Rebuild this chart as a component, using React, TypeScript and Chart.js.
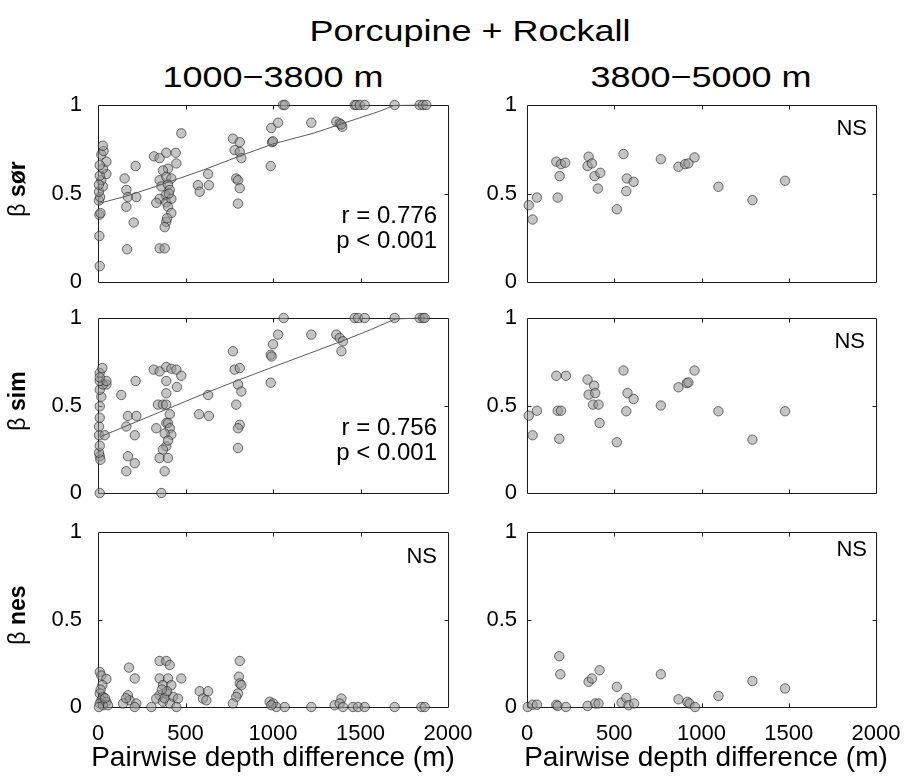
import React, { useEffect, useRef } from 'react';
import { Chart, registerables } from 'chart.js';

Chart.register(...registerables);

const FONT = "'Liberation Sans', Arial, Helvetica, sans-serif";

// ---------- Data: 1000-3800 m ----------
const shallowSorX = [10, 8, 8, 14, 5, 12, 6, 28, 19, 48, 10, 28, 48, 10, 19, 32, 28, 5,
  152, 162, 171, 162, 219, 215, 204, 166,
  320, 352, 390, 444, 448, 400, 371, 352, 390, 419, 362, 400, 410, 387, 352, 333, 390, 419, 400, 419, 390, 381, 352, 381, 476, 395, 405,
  629, 571, 581, 634,
  771, 810, 781, 810, 819, 790, 800, 810, 800,
  990, 1029, 994, 1000, 987, 1057, 1067,
  1219, 1362, 1381, 1396, 1390,
  1467, 1476, 1496, 1524, 1695, 1838, 1857, 1876];
const shallowSorY = [0.09, 0.26, 0.38, 0.39, 0.46, 0.48, 0.51, 0.54, 0.575, 0.61, 0.60, 0.64, 0.68, 0.66, 0.72, 0.74, 0.77, 0.55,
  0.585, 0.52, 0.48, 0.425, 0.48, 0.655, 0.336, 0.185,
  0.71, 0.70, 0.73, 0.73, 0.67, 0.64, 0.63, 0.575, 0.594, 0.585, 0.54, 0.55, 0.52, 0.49, 0.47, 0.447, 0.45, 0.47, 0.425, 0.39, 0.34, 0.31, 0.19, 0.19, 0.84, 0.36, 0.50,
  0.61, 0.547, 0.51, 0.547,
  0.81, 0.79, 0.745, 0.735, 0.70, 0.585, 0.575, 0.53, 0.443,
  0.87, 0.90, 0.79, 0.795, 0.655, 1.0, 1.0,
  0.90, 0.906, 0.896, 0.877, 0.89,
  1, 1, 1, 1, 1, 1, 1, 1];

const shallowSimX = [10, 10, 14, 6, 10, 6, 38, 6, 10, 10, 19, 10, 48, 28, 10, 48, 10, 25, 10,
  133, 215, 171, 219, 162, 210, 171, 210, 162,
  362, 318, 352, 390, 419, 448, 476, 390, 451, 390, 343, 371, 390, 410, 390, 400, 410, 419, 381, 333, 390, 371, 352, 400, 381, 400,
  629, 577, 634,
  771, 781, 810, 800, 819, 790, 810, 800, 800,
  1029, 1000, 987, 992, 987, 1061,
  1219, 1362, 1381, 1400, 1391,
  1467, 1486, 1524, 1695, 1838, 1857, 1867];
const shallowSimY = [0, 0.21, 0.19, 0.23, 0.27, 0.33, 0.33, 0.38, 0.43, 0.495, 0.55, 0.59, 0.62, 0.62, 0.64, 0.64, 0.686, 0.714, 0.66,
  0.56, 0.64, 0.44, 0.44, 0.38, 0.33, 0.21, 0.17, 0.124,
  0, 0.705, 0.695, 0.72, 0.71, 0.705, 0.67, 0.64, 0.606, 0.57, 0.505, 0.505, 0.505, 0.45, 0.40, 0.40, 0.37, 0.333, 0.34, 0.37, 0.267, 0.248, 0.2, 0.2, 0.124, 0.30,
  0.56, 0.45, 0.44,
  0.81, 0.705, 0.714, 0.62, 0.58, 0.505, 0.39, 0.37, 0.257,
  0.905, 0.85, 0.79, 0.78, 0.63, 1.0,
  0.905, 0.905, 0.886, 0.867, 0.81,
  1, 1, 1, 1, 1, 1, 1];

const shallowNesX = [10, 19, 48, 25, 10, 28, 19, 48, 10, 28, 57, 5, 40, 15,
  177, 210, 171, 181, 143, 219, 210, 160,
  352, 390, 410, 352, 400, 476, 371, 419, 352, 390, 429, 457, 333, 371, 410, 305, 448, 380, 395, 365,
  581, 629, 600, 619,
  810, 805, 810, 819, 800, 790, 771,
  981, 1000, 1019, 1067, 990,
  1219, 1352, 1391, 1381, 1400, 1457, 1486, 1524, 1695, 1848, 1867];
const shallowNesY = [0.2, 0.18, 0.16, 0.125, 0.077, 0.058, 0.038, 0.03, 0.02, 0.01, 0.01, 0, 0.05, 0.1,
  0.225, 0.163, 0.067, 0.038, 0.02, 0.02, 0, 0.05,
  0.263, 0.263, 0.24, 0.163, 0.163, 0.163, 0.125, 0.125, 0.067, 0.077, 0.058, 0.048, 0.048, 0.03, 0.02, 0, 0, 0.05, 0.09, 0.1,
  0.09, 0.09, 0.048, 0.038,
  0.263, 0.173, 0.135, 0.125, 0.077, 0.058, 0.02,
  0.03, 0.02, 0, 0, 0.01,
  0, 0.01, 0.048, 0.02, 0, 0, 0, 0, 0, 0, 0];

// fitted trend lines
const sorFitX = [0, 162, 352, 600, 810, 1000, 1229, 1400, 1610, 1690, 1880];
const sorFitY = [0.443, 0.485, 0.547, 0.632, 0.712, 0.78, 0.84, 0.896, 0.965, 0.997, 1.0];
const simFitX = [19, 352, 600, 810, 1000, 1200, 1400, 1550, 1700, 1870];
const simFitY = [0.324, 0.462, 0.565, 0.648, 0.72, 0.795, 0.87, 0.93, 0.995, 1.0];

// ---------- Data: 3800-5000 m ----------
const deepSorX = [10, 32, 57, 168, 176, 187, 195, 219, 347, 353, 372, 387, 406, 420, 515, 553, 569, 572, 611, 767, 868, 906, 925, 960, 1097, 1292, 1479];
const deepSorY = [0.434, 0.353, 0.477, 0.68, 0.477, 0.598, 0.666, 0.674, 0.655, 0.708, 0.67, 0.598, 0.528, 0.617, 0.411, 0.723, 0.513, 0.585, 0.566, 0.694, 0.651, 0.666, 0.67, 0.704, 0.538, 0.462, 0.572];

const deepSimX = [10, 32, 57, 168, 176, 185, 195, 223, 347, 353, 378, 385, 391, 410, 416, 515, 553, 569, 576, 611, 767, 868, 916, 925, 960, 1097, 1292, 1479];
const deepSimY = [0.442, 0.33, 0.47, 0.67, 0.47, 0.31, 0.47, 0.67, 0.648, 0.562, 0.505, 0.613, 0.571, 0.505, 0.40, 0.29, 0.70, 0.467, 0.571, 0.537, 0.50, 0.604, 0.628, 0.632, 0.70, 0.467, 0.305, 0.467];

const deepNesX = [4, 32, 57, 168, 176, 185, 191, 223, 347, 353, 372, 391, 410, 416, 515, 542, 569, 582, 614, 767, 868, 919, 931, 963, 1097, 1292, 1479];
const deepNesY = [0, 0.013, 0.013, 0.013, 0.006, 0.29, 0.187, 0, 0.006, 0.144, 0.163, 0.02, 0.02, 0.21, 0.115, 0.025, 0.052, 0.01, 0.02, 0.187, 0.044, 0.029, 0.02, 0, 0.063, 0.148, 0.106];

const xTickValues = [0, 500, 1000, 1500, 2000];
const yTickValues = [0, 0.5, 1];

const zip = (xs: number[], ys: number[]) => xs.map((x, i) => ({ x, y: ys[i] }));

const framePlugin = {
  id: 'frame',
  beforeDatasetsDraw(chart: any) {
    const { ctx, chartArea: a, scales } = chart;
    ctx.save();
    ctx.strokeStyle = '#1a1a1a';
    ctx.lineWidth = 1;
    ctx.beginPath();
    const L = Math.round(a.left) + 0.5, R = Math.round(a.right) + 0.5;
    const T = Math.round(a.top) + 0.5, B = Math.round(a.bottom) + 0.5;
    ctx.rect(L, T, R - L, B - T);
    const tl = 4;
    xTickValues.slice(1, -1).forEach((v) => {
      const px = Math.round(scales.x.getPixelForValue(v)) + 0.5;
      ctx.moveTo(px, B); ctx.lineTo(px, B - tl);
      ctx.moveTo(px, T); ctx.lineTo(px, T + tl);
    });
    yTickValues.slice(1, -1).forEach((v) => {
      const py = Math.round(scales.y.getPixelForValue(v)) + 0.5;
      ctx.moveTo(L, py); ctx.lineTo(L + tl, py);
      ctx.moveTo(R, py); ctx.lineTo(R - tl, py);
    });
    ctx.stroke();
    ctx.restore();
  },
};

type PanelProps = {
  left: number; top: number; width: number; height: number;
  xs: number[]; ys: number[]; fitX?: number[]; fitY?: number[];
  showX: boolean; yPad: number;
};

const PADL = 90, PADT = 14, PADR = 30;

const zeroPad = (s: any) => {
  s.paddingLeft = 0; s.paddingRight = 0; s.paddingTop = 0; s.paddingBottom = 0;
};

function Panel(p: PanelProps) {
  const ref = useRef<HTMLCanvasElement | null>(null);
  const bottomSpace = p.showX ? 44 : 14;
  const cw = PADL + p.width + PADR;
  const ch = PADT + p.height + bottomSpace;
  useEffect(() => {
    if (!ref.current) return;
    const datasets: any[] = [];
    if (p.fitX && p.fitY) {
      datasets.push({
        type: 'line', data: zip(p.fitX, p.fitY), borderColor: '#5a5a5a', borderWidth: 1,
        pointRadius: 0, fill: false, tension: 0, clip: false,
      });
    }
    datasets.push({
      type: 'scatter', data: zip(p.xs, p.ys), pointRadius: 4.7, pointHoverRadius: 4.7,
      backgroundColor: 'rgba(150,150,150,0.55)', borderColor: 'rgba(20,20,20,0.65)',
      borderWidth: 0.9, clip: false,
    });
    const tickFont = { size: 22, family: FONT };
    const chart = new Chart(ref.current, {
      type: 'scatter',
      data: { datasets },
      plugins: [framePlugin],
      options: {
        animation: false,
        responsive: false,
        maintainAspectRatio: false,
        events: [],
        layout: { autoPadding: false, padding: { left: 0, top: PADT, right: PADR, bottom: p.showX ? 0 : 14 } },
        plugins: { legend: { display: false }, tooltip: { enabled: false }, title: { display: false } },
        scales: {
          x: {
            type: 'linear', min: 0, max: 2000,
            afterFit: (s: any) => { s.height = p.showX ? bottomSpace : 0; zeroPad(s); },
            afterBuildTicks: (s: any) => { s.ticks = xTickValues.map((v) => ({ value: v })); },
            grid: { display: false, drawTicks: false },
            border: { display: false },
            ticks: {
              display: p.showX, padding: 14, font: tickFont, color: '#000',
              maxRotation: 0, autoSkip: false, callback: (v: any) => String(v),
            },
          },
          y: {
            type: 'linear', min: 0, max: 1,
            afterFit: (s: any) => { s.width = PADL; zeroPad(s); },
            afterBuildTicks: (s: any) => { s.ticks = yTickValues.map((v) => ({ value: v })); },
            grid: { display: false, drawTicks: false },
            border: { display: false },
            ticks: { padding: p.yPad, font: tickFont, color: '#000', callback: (v: any) => String(v) },
          },
        },
      } as any,
    });
    return () => chart.destroy();
  }, []);
  return (
    <canvas
      ref={ref}
      width={cw}
      height={ch}
      style={{ position: 'absolute', left: p.left - PADL, top: p.top - PADT, width: cw, height: ch, display: 'block' }}
    />
  );
}

const txt = (extra: React.CSSProperties): React.CSSProperties => ({
  position: 'absolute', fontFamily: FONT, color: '#000', whiteSpace: 'nowrap', margin: 0, ...extra,
});

function YLabel({ name, cy }: { name: string; cy: number }) {
  return (
    <div style={txt({ left: 17, top: cy, fontSize: 23, lineHeight: '23px', transform: 'translate(-50%, -50%) rotate(-90deg)' })}>
      <span>β </span><b>{name}</b>
    </div>
  );
}

function Stat({ right, top, r }: { right: number; top: number; r: string }) {
  return (
    <div style={txt({ left: right - 200, width: 200, top, fontSize: 24, lineHeight: '25px', textAlign: 'right' })}>
      <div>{`r = ${r}`}</div>
      <div>{'p < 0.001'}</div>
    </div>
  );
}

function NS({ right, top }: { right: number; top: number }) {
  return <div style={txt({ left: right - 100, width: 100, top, fontSize: 22, lineHeight: '22px', textAlign: 'right' })}>NS</div>;
}

export default function App() {
  const LX = 98, RX = 527, LW = 350, RW = 349;
  const rows = [{ top: 105, h: 177 }, { top: 318, h: 175 }, { top: 532, h: 175 }];
  return (
    <div style={{ position: 'absolute', left: 0, top: 0, width: 904, height: 782, background: '#fff', overflow: 'hidden' }}>
      <div style={txt({ left: 470, top: 16, fontSize: 30, lineHeight: '30px', transform: 'translateX(-50%) scaleX(1.2)' })}>Porcupine + Rockall</div>
      <div style={txt({ left: 273, top: 62, fontSize: 30, lineHeight: '30px', transform: 'translateX(-50%) scaleX(1.2)' })}>1000−3800 m</div>
      <div style={txt({ left: 701, top: 62, fontSize: 30, lineHeight: '30px', transform: 'translateX(-50%) scaleX(1.2)' })}>3800−5000 m</div>

      <Panel left={LX} top={rows[0].top} width={LW} height={rows[0].h} xs={shallowSorX} ys={shallowSorY} fitX={sorFitX} fitY={sorFitY} showX={false} yPad={16} />
      <Panel left={RX} top={rows[0].top} width={RW} height={rows[0].h} xs={deepSorX} ys={deepSorY} showX={false} yPad={10} />
      <Panel left={LX} top={rows[1].top} width={LW} height={rows[1].h} xs={shallowSimX} ys={shallowSimY} fitX={simFitX} fitY={simFitY} showX={false} yPad={16} />
      <Panel left={RX} top={rows[1].top} width={RW} height={rows[1].h} xs={deepSimX} ys={deepSimY} showX={false} yPad={10} />
      <Panel left={LX} top={rows[2].top} width={LW} height={rows[2].h} xs={shallowNesX} ys={shallowNesY} showX={true} yPad={16} />
      <Panel left={RX} top={rows[2].top} width={RW} height={rows[2].h} xs={deepNesX} ys={deepNesY} showX={true} yPad={10} />

      <YLabel name="sør" cy={189} />
      <YLabel name="sim" cy={401} />
      <YLabel name="nes" cy={615} />

      <Stat right={437} top={202} r="0.776" />
      <Stat right={437} top={414} r="0.756" />
      <NS right={867} top={117} />
      <NS right={865} top={330} />
      <NS right={437} top={545} />
      <NS right={867} top={538} />

      <div style={txt({ left: 273, top: 743, fontSize: 28, lineHeight: '28px', transform: 'translateX(-50%)' })}>Pairwise depth difference (m)</div>
      <div style={txt({ left: 706, top: 743, fontSize: 28, lineHeight: '28px', transform: 'translateX(-50%)' })}>Pairwise depth difference (m)</div>
    </div>
  );
}
